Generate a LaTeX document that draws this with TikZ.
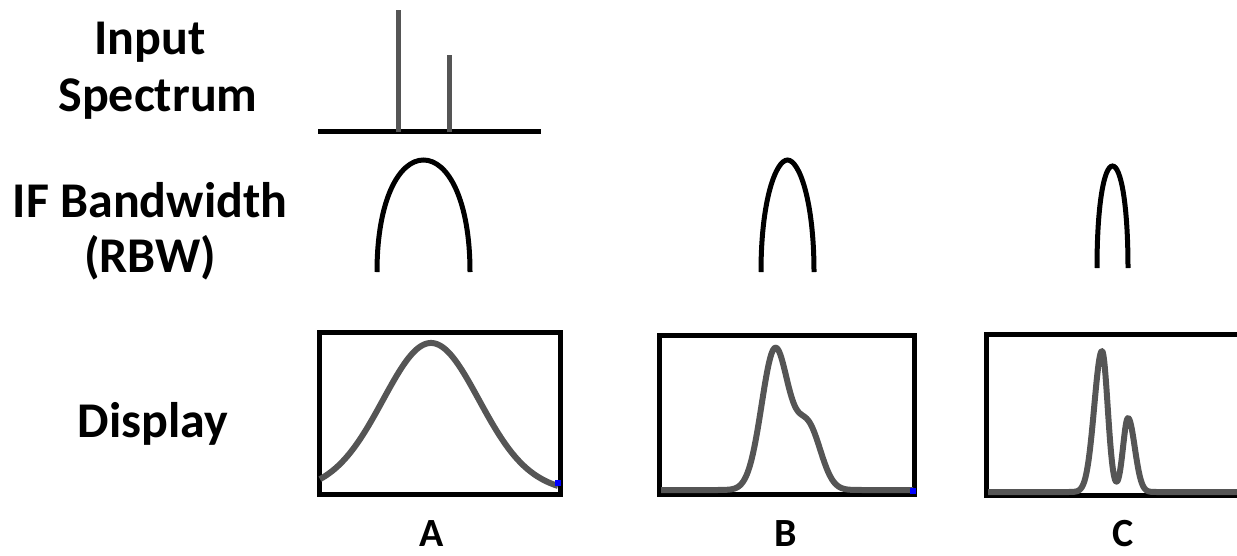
\documentclass[tikz,border=0pt]{standalone}
\usepackage{fontspec}
\setmainfont{Carlito}
\definecolor{specgray}{HTML}{555555}
\begin{document}
\begin{tikzpicture}[x=1pt,y=-1pt,
  lbl/.style={font=\bfseries\fontsize{50}{55}\selectfont, inner sep=0pt, anchor=base},
  caplbl/.style={font=\bfseries\fontsize{40}{44}\selectfont, inner sep=0pt, anchor=base},
  axisline/.style={line width=5pt, black},
  spike/.style={line width=5pt, specgray},
  archline/.style={line width=5pt, black},
  frame/.style={line width=5pt, black},
  trace/.style={line width=6pt, specgray, line join=round},
  endmark/.style={fill=blue, draw=none}]
\useasboundingbox (0,0) rectangle (1237,555);

% row labels
\node[lbl] (inA) at (150,54) {Input};
\node[lbl] (inB) at (158,111) {Spectrum};
\node[lbl] (ifA) at (150,217) {IF Bandwidth};
\node[lbl] (ifB) at (150,272) {(RBW)};
\node[lbl] (disp) at (153,437) {Display};
\node[caplbl] (capA) at (432,546) {A};
\node[caplbl] (capB) at (786,546) {B};
\node[caplbl] (capC) at (1123,546) {C};

% input spectrum
\coordinate (bl) at (318,131);
\coordinate (br) at (541,131);
\coordinate (t1) at (398,10);
\coordinate (b1) at (398,132);
\coordinate (t2) at (449,55);
\coordinate (b2) at (449,132);
\draw[axisline] (bl) -- (br);
\draw[spike] (b1) -- (t1);
\draw[spike] (b2) -- (t2);

% IF filters
\draw[archline] (377,272) .. controls (377,200) and (399,160) .. (423.5,160)
                .. controls (448,160) and (470,200) .. (470,272);
\draw[archline] (761,272) .. controls (761,200) and (776,160) .. (787.5,160)
                .. controls (799,160) and (814,200) .. (814,272);
\draw[archline] (1097,268) .. controls (1097,205) and (1104,166) .. (1112.5,166)
                .. controls (1121,166) and (1128,205) .. (1128,268);

% display frames
\draw[frame] (319.5,332.5) rectangle (560.5,494.5);
\draw[frame] (659.5,335.5) rectangle (914.5,494.5);
\draw[frame] (986,334.5) rectangle (1250,495.5);

% traces
\draw[trace] plot[domain=320:558, samples=150]
  (\x, {497 - 130*exp(-((\x-431)/66)^2) - 24*exp(-((\x-431)/120)^2)});
\fill[endmark] (555,480) rectangle (561,486);

\draw[trace] plot[domain=661:913, samples=250]
  (\x, {490 - 140*exp(-((\x-775)/19)^2) - 63*exp(-((\x-808)/18)^2)});
\fill[endmark] (910,488) rectangle (916,494);

\draw[trace] plot[domain=988:1240, samples=400]
  (\x, {492 - 141*exp(-((\x-1102)/((\x<1102) ? 11 : 8))^2) - 74*exp(-((\x-1128)/((\x<1128) ? 7 : 9.5))^2)});
\end{tikzpicture}
\end{document}
